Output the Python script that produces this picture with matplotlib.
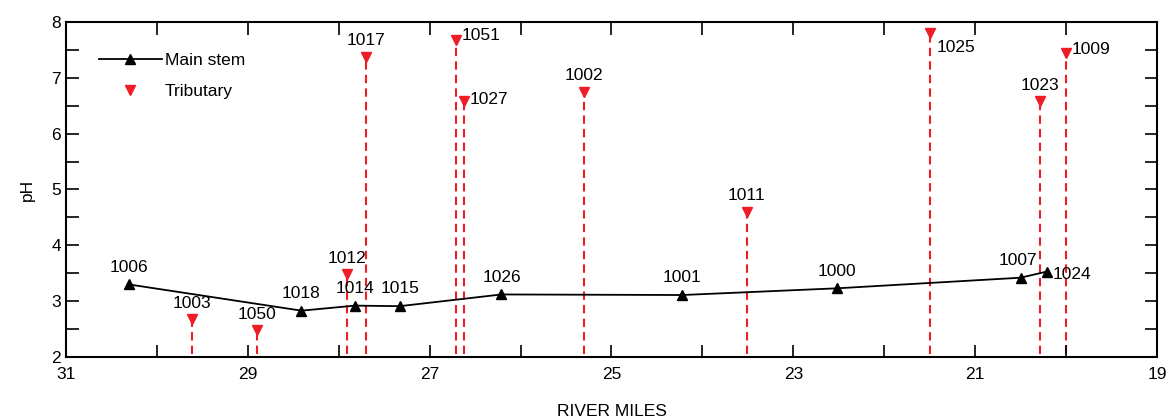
import matplotlib
matplotlib.use("Agg")
import matplotlib.pyplot as plt
from matplotlib.ticker import MultipleLocator

plt.rcParams['font.family'] = ['Liberation Sans Narrow', 'Liberation Sans', 'DejaVu Sans']

# main stem sites (river mile, pH)
main_ids = ['1006', '1018', '1014', '1015', '1026', '1001', '1000', '1007', '1024']
main_miles = [30.31, 28.41, 27.82, 27.33, 26.21, 24.22, 22.52, 20.50, 20.21]
main_ph = [3.30, 2.83, 2.92, 2.91, 3.12, 3.11, 3.23, 3.42, 3.53]

# tributary sites
trib_ids = ['1003', '1050', '1012', '1017', '1051', '1027', '1002', '1011', '1025', '1023', '1009']
trib_miles = [29.61, 28.90, 27.91, 27.70, 26.71, 26.62, 25.30, 23.51, 21.50, 20.29, 20.00]
trib_ph = [2.68, 2.48, 3.48, 7.38, 7.68, 6.58, 6.75, 4.60, 7.80, 6.58, 7.45]

x_ticks = [31, 29, 27, 25, 23, 21, 19]

# label offsets in points (dx, dy, ha)
main_off = {'1007': (-2, 7, 'center'), '1024': (4, -2, 'left')}
trib_off = {'1051': (4, 3, 'left'), '1027': (4, 1, 'left'), '1025': (5, -10, 'left'),
            '1009': (4, 2, 'left')}

fig = plt.figure(figsize=(11.68, 4.19), dpi=100)
ax = fig.add_axes([0.0565, 0.148, 0.934, 0.7995])

for m, v in zip(trib_miles, trib_ph):
    ax.plot([m, m], [2.05, v], color='#ee1c25', ls=(0, (4, 2.5)), lw=1.5, zorder=1)

ax.plot(main_miles, main_ph, color='black', lw=1.3, marker='^', ms=6.5,
        markerfacecolor='black', label='Main stem', zorder=3)
ax.plot(trib_miles, trib_ph, ls='none', marker='v', ms=7, color='#ee1c25',
        label='Tributary', zorder=3)

for name, m, v in zip(main_ids, main_miles, main_ph):
    dx, dy, ha = main_off.get(name, (0, 7, 'center'))
    ax.annotate(name, (m, v), xytext=(dx, dy), textcoords='offset points',
                ha=ha, va='bottom' if dy > 0 else 'center', fontsize=12.5)

for name, m, v in zip(trib_ids, trib_miles, trib_ph):
    dx, dy, ha = trib_off.get(name, (0, 6, 'center'))
    ax.annotate(name, (m, v), xytext=(dx, dy), textcoords='offset points',
                ha=ha, va='bottom' if dy > 5 else 'center', fontsize=12.5)

ax.set_xlim(31, 19)
ax.set_ylim(2, 8)
ax.set_xticks(x_ticks)
ax.xaxis.set_minor_locator(MultipleLocator(1))
ax.yaxis.set_major_locator(MultipleLocator(1))
ax.yaxis.set_minor_locator(MultipleLocator(0.5))
ax.tick_params(which='both', direction='in', top=True, right=True, labelsize=12.5,
               width=1.2, length=9)
ax.tick_params(axis='x', pad=7)
for s in ax.spines.values():
    s.set_linewidth(1.5)

ax.set_xlabel('RIVER MILES', fontsize=12.5, labelpad=16)
ax.set_ylabel('pH', fontsize=12.5, labelpad=12)

ax.legend(loc='upper left', bbox_to_anchor=(0.016, 0.955), frameon=False,
          fontsize=12.5, handlelength=3.6, handletextpad=0.2, labelspacing=0.9)

fig.savefig('out.png', dpi=100)
